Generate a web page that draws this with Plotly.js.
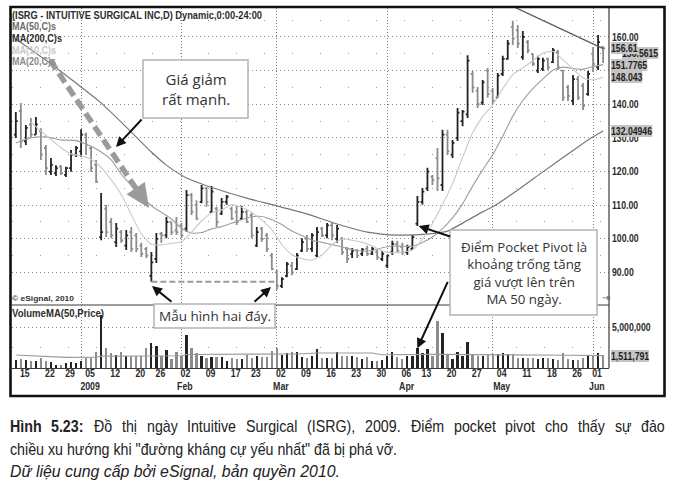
<!DOCTYPE html>
<html><head><meta charset="utf-8">
<script src="https://cdn.plot.ly/plotly-3.0.1.min.js"></script>
<style>html,body{margin:0;padding:0;background:#fff;} #chart{width:676px;height:489px;}</style>
</head><body><div id="chart"></div>
<script>
// ---------- DATA ----------
const startDate = '2008-12-12';
const holidays = ['2008-12-25','2009-01-01','2009-01-19','2009-02-16','2009-04-10','2009-05-25'];
const monthNames = ['Jan','Feb','Mar','Apr','May','Jun','Jul','Aug','Sep','Oct','Nov','Dec'];

const open = [131,138,129,134,131,132,127,120,119.5,121.5,
 119,121,125,126,131,127,122,100.5,109,105,
 99,102,98,102,101,98,97,89,94,101.5,
 101,105,102.5,104,103,113,110,111,115,108,
 109,107.5,111,109,108,106,108,107,98,103,
 101,95,90,86,89,92,91,96.5,100,97,
 95,103,101,104,100,100,97,95.5,96.5,95.5,
 97,95.6,96,94,92,96,98.5,97.5,96,97,
 104.5,111,115,118.5,124,116,131,125,130,135,
 137,149,144,140.5,150,144,142,149,153.5,163,
 162,154,158.5,155,150,150.5,153.5,152.5,155.5,150,
 145,141,147.5,145.5,143,155,151,157];
const high = [137.7,140.4,133.8,135.9,136.2,132.9,127.9,124.0,121.9,121.9,
 121.4,126.4,127.6,132.6,131.5,127.3,123.4,113.6,110.1,106.2,
 104.7,102.6,102.6,103.5,101.7,98.8,97.6,96.1,101.7,102.0,
 106.5,105.0,106.5,104.7,114.5,113.6,111.5,116.0,115.4,115.7,
 109.5,112.1,113.0,109.5,109.8,109.8,108.6,107.7,103.5,103.5,
 101.7,95.8,90.7,88.6,93.1,93.1,95.8,100.2,101.1,101.7,
 103.5,103.5,104.7,104.7,104.1,100.5,97.6,97.3,97.0,97.3,
 97.9,97.6,96.7,96.4,95.2,99.4,99.4,98.8,98.2,101.1,
 112.7,115.1,121.1,119.0,127.0,132.4,132.4,129.4,138.9,138.3,
 154.6,149.9,145.1,147.2,150.8,144.8,149.3,154.4,159.1,164.8,
 163.6,161.8,159.1,155.2,154.4,153.8,153.8,156.7,156.1,150.2,
 145.7,148.7,148.4,146.3,149.9,157.0,160.6,157.3];
const low = [130.0,127.0,127.9,130.3,130.9,123.4,119.0,119.0,118.7,119.0,
 118.4,119.9,124.3,124.3,124.9,119.9,116.6,99.6,100.5,100.2,
 97.6,98.8,96.7,96.1,96.1,94.6,94.3,87.2,92.8,98.8,
 100.2,101.1,101.1,100.2,102.0,107.1,105.6,110.6,109.5,107.7,
 103.5,107.1,110.1,105.6,104.1,105.6,104.7,100.2,97.6,99.1,
 96.1,90.7,84.8,85.4,88.6,89.2,90.7,96.1,96.1,96.1,
 94.6,100.5,100.2,99.6,98.8,95.2,92.8,94.3,94.3,94.9,
 94.9,95.2,93.7,93.4,91.3,95.2,95.8,95.2,95.2,96.7,
 103.8,110.1,114.2,116.0,114.2,114.2,124.9,124.0,129.1,133.5,
 135.9,143.4,138.9,139.8,141.9,139.8,141.9,148.4,153.2,157.6,
 156.7,153.2,155.2,151.4,149.3,149.9,150.2,152.3,150.2,141.0,
 141.0,139.8,141.3,138.3,142.5,149.6,150.2,152.3];
const close = [135,129,133,131,134,125,121,122,121,119.5,
 121,125,127,131,128,121,117,102,102,101,
 103,99.5,101,97,97,95.5,95,93,100,101,
 105,102,102,101,113,108,106,115,111,114,
 105,111,112.5,106,105,108,105,101,102,100,
 97,91,86,88,92.5,90,95,99,97,101,
 102,101,104,101,103,96,94,96.5,95,96.8,
 95.5,97,94.5,95.5,95,98.5,96.5,96,97.5,100.5,
 111,114,120,117.5,118,131,126,128.5,137.5,137.8,
 153,145,140,146.5,143,141,148.5,153.5,158,159.5,
 158,160,156,152,153.5,153,151,156,151,142,
 142.5,147.5,142,139.5,149,152,158.5,156.61];
// volume in millions of shares
const volumeM = [0.98,1.06,1.0,0.9,0.9,1.18,0.9,0.69,0.37,0.33,
 0.65,0.73,0.65,0.85,1.18,1.18,1.9,6.5,2.4,1.85,
 1.6,1.9,1.45,1.45,1.45,1.5,2.5,3.1,2.7,1.45,
 2.2,1.06,2.0,1.5,4.0,2.4,1.8,1.45,1.2,1.3,
 1.3,1.3,0.9,1.2,1.1,1.1,1.6,1.2,1.5,1.3,
 1.3,2.1,2.5,1.6,1.85,1.9,1.9,1.4,1.2,1.5,
 2.3,1.2,1.2,1.2,1.9,1.5,1.5,1.5,1.3,1.1,
 1.3,0.9,0.9,1.0,1.45,1.9,1.3,1.1,1.5,1.5,
 2.4,1.8,2.3,1.5,5.8,4.3,1.6,1.1,2.0,1.45,
 3.2,1.6,1.45,1.45,1.6,1.7,1.7,1.8,1.7,1.7,
 1.2,1.2,1.2,1.2,1.1,1.2,1.2,1.1,1.0,1.8,
 1.1,1.0,1.0,1.2,1.6,1.6,1.85,1.6];

const ma10Idx = [3,5,7,9,11,13,15,17,19,21,23,25,27,29,31,33,35,37,39,41,43,45,47,49,51,53,55,57,59,61,63,65,67,69,71,73,75,77,79,81,83,85,87,89,91,93,95,97,99,101,103,105,107,109,111,113,115,117];
const ma10Val = [134.7,132.0,129.5,127.05,125.25,124.65,123.65,121.25,117.5,113.15,107.15,101.5,98.4,98.2,98.65,99.15,102,105.3,107.7,108.6,110.15,109.35,107.85,105.55,102.75,98.3,95.25,94.05,93.65,95.15,98.25,99.9,99.55,98.93,97.88,96.38,95.83,96.03,96.65,99.9,104.65,110.2,116.4,124.13,131.43,136.33,139.83,144.58,148.8,150.8,152.95,155.2,155.7,153.25,150.45,147.8,147.25,148.043];
const ma20Idx = [0,3,6,9,12,15,17,19,21,23,25,27,29,31,33,35,37,39,41,43,45,47,49,51,53,55,57,59,61,63,65,67,69,71,73,75,77,79,81,83,85,87,89,91,93,95,97,99,101,103,105,107,109,111,113,115,117];
const ma20Val = [128.5,130,130.3,129.4,129.2,127.5,125.8,123.5,119.2,115.9,112.58,109.83,107.85,105.9,103.15,101.75,101.85,102.95,103.63,104.65,105.68,106.58,106.63,105.68,104.23,102.3,100.95,99.6,98.95,98.28,97.58,96.8,96.29,96.52,97.32,97.87,97.79,97.79,98.89,100.52,103.02,106.22,110.39,115.67,120.49,125.02,130.49,136.47,141.12,144.64,147.52,150.14,151.03,150.63,150.38,151.23,151.7765];
const ma50Idx = [0,2,7,12,17,22,27,30,34,40,46,52,58,64,70,76,82,86,90,93,95,100,105,110,114,117];
const ma50Val = [159.5,157.3,152.0,146.3,140.4,133.2,125.8,121.9,118.1,114.8,112.1,109.8,107.4,104.4,102.0,101.1,101.4,102.3,105.5,108.0,109.5,114.5,119.9,125.2,129.4,132.04946];
const ma200Idx = [98,108,117];
const ma200Val = [169.8,162.9,156.5615];
const volMAIdx = [0,6,10,16,17,33,34,56,60,71,73,84,90,100,110,117];
const volMAVal = [1.58,1.38,1.3,1.32,1.45,1.5,1.65,1.72,1.83,1.83,1.62,1.66,1.65,1.6,1.55,1.511791];

const priceTicks = [90,100,110,120,130,140,150,160];
const hiddenTicks = [150];   // covered by the value tags in the original

// ---------- FONTS / MEASUREMENT ----------
const FN = '"Liberation Sans", Arial, sans-serif';
const FB = '"Open Sans", "Noto Sans", sans-serif';
const svgNS='http://www.w3.org/2000/svg';
const msvg=document.createElementNS(svgNS,'svg');
msvg.setAttribute('width','10'); msvg.setAttribute('height','10');
msvg.style.position='absolute'; msvg.style.left='-9999px';
document.body.appendChild(msvg);
function tw(t, size, weight, italic){
  const el=document.createElementNS(svgNS,'text');
  el.setAttribute('x','0'); el.setAttribute('y','20');
  el.style.fontFamily=FN; el.style.fontSize=size+'px'; el.style.fontWeight=weight||'normal'; el.style.fontStyle=italic?'italic':'normal';
  el.textContent=t; msvg.appendChild(el);
  const w=el.getComputedTextLength(); msvg.removeChild(el); return w;
}
const clamp=(v,a,b)=>Math.max(a,Math.min(b,v));
// condensing factors so the bold labels take the same width as the narrow originals
const SZ_R = 10.5, K_R = clamp(41/tw('132.04946',SZ_R,'bold'), 0.55, 1);
const SZ_D = 10,   K_D = clamp(19.5/tw('2009',SZ_D,'bold'), 0.55, 1);

// ---------- CALENDAR (trading-day index axis) ----------
function tradingDays(start, n, hol){
  const out=[]; const d=new Date(start+'T00:00:00Z');
  while(out.length<n){
    const dow=d.getUTCDay(); const s=d.toISOString().slice(0,10);
    if(dow>0 && dow<6 && !hol.includes(s)) out.push(new Date(d.getTime()));
    d.setUTCDate(d.getUTCDate()+1);
  }
  return out;
}
const days = tradingDays(startDate, close.length, holidays);
const idx = days.map((d,i)=>i);
const tickIdx=[], tickTxt=[], monthIdx=[], monthLblX=[], monthLblT=[];
let pendingMonth=null;
for(let i=0;i<days.length;i++){
  const d=days[i];
  if(i>0 && d.getUTCMonth()!==days[i-1].getUTCMonth()){ monthIdx.push(i); pendingMonth=d; }
  const weekStart = i>0 && (d.getUTCDay()<days[i-1].getUTCDay() || (d-days[i-1])>=7*864e5);
  if(weekStart){
    tickIdx.push(i+0.8); tickTxt.push(String(d.getUTCDate()).padStart(2,'0'));
    if(pendingMonth){
      monthLblX.push(i+0.8);
      monthLblT.push(pendingMonth.getUTCMonth()===0 ? String(pendingMonth.getUTCFullYear()) : monthNames[pendingMonth.getUTCMonth()]);
      pendingMonth=null;
    }
  }
}

// ---------- GEOMETRY HELPERS ----------
const L=12, R=609, T=8, B=368;
const px = x => (x-L)/(R-L);
const py = y => (B-y)/(B-T);
const DARK='#232323', GRAY='#8c8c8c';
const up = close.map((c,i)=>c>=open[i]);

const traces = [
  {type:'scatter', mode:'lines', x:ma200Idx, y:ma200Val, line:{color:'#5c5c5c', width:1.3}, hoverinfo:'skip', xaxis:'x', yaxis:'y'},
  {type:'scatter', mode:'lines', x:ma50Idx, y:ma50Val, line:{color:'#777', width:1.2, shape:'spline', smoothing:0.6}, hoverinfo:'skip', xaxis:'x', yaxis:'y'},
  {type:'scatter', mode:'lines', x:ma20Idx, y:ma20Val, line:{color:'#9e9e9e', width:1.1, shape:'spline', smoothing:0.6}, hoverinfo:'skip', xaxis:'x', yaxis:'y'},
  {type:'scatter', mode:'lines', x:ma10Idx, y:ma10Val, line:{color:'#c9c9c9', width:1.1, shape:'spline', smoothing:0.6}, hoverinfo:'skip', xaxis:'x', yaxis:'y'},
  {type:'ohlc', x:idx, open:open, high:high, low:low, close:close, xaxis:'x', yaxis:'y',
   increasing:{line:{color:DARK, width:1.8}}, decreasing:{line:{color:GRAY, width:1.8}}, tickwidth:0.38, hoverinfo:'skip'},
  {type:'bar', x:idx, y:volumeM, width:0.45, marker:{color:up.map(u=>u?DARK:GRAY), line:{width:0}}, xaxis:'x', yaxis:'y2', hoverinfo:'skip'},
  {type:'scatter', mode:'lines', x:volMAIdx, y:volMAVal, line:{color:'#9a9a9a', width:1.1}, xaxis:'x', yaxis:'y2', hoverinfo:'skip'}
];

// dashed big arrow geometry (pixel space)
const tail=[50,60], tip=[149,208];
const dx=tip[0]-tail[0], dy=tip[1]-tail[1], len=Math.hypot(dx,dy), ux=dx/len, uy=dy/len;
const hl=24, hw=11;
const bc=[tip[0]-hl*ux, tip[1]-hl*uy];
const p1=[bc[0]-hw*uy, bc[1]+hw*ux], p2=[bc[0]+hw*uy, bc[1]-hw*ux];
const P = p => px(p[0])+','+py(p[1]);

const boxLine = {color:'#b3b3b3', width:1.5};
const shapes = [
  {type:'line', xref:'paper', yref:'paper', x0:0, x1:1, y0:py(305), y1:py(305), line:{color:'#3a3a3a', width:1.2}},
  {type:'line', xref:'paper', yref:'paper', x0:1, x1:1, y0:0, y1:1, line:{color:'#3a3a3a', width:1.2}},
  {type:'line', xref:'x', yref:'y', x0:27, x1:51.7, y0:low[27], y1:low[27], line:{color:'#9a9a9a', width:2, dash:'6px,3px'}},
  {type:'line', xref:'paper', yref:'paper', x0:px(tail[0]), y0:py(tail[1]), x1:px(bc[0]+2*ux), y1:py(bc[1]+2*uy), line:{color:'#9b9b9b', width:5.5, dash:'11px,5px'}},
  {type:'path', xref:'paper', yref:'paper', path:'M'+P(tip)+' L'+P(p1)+' L'+P(p2)+' Z', fillcolor:'#9b9b9b', line:{width:0}},
  {type:'rect', xref:'paper', yref:'paper', x0:px(143), x1:px(248), y0:py(118), y1:py(60), fillcolor:'#fff', line:boxLine},
  {type:'rect', xref:'paper', yref:'paper', x0:px(154), x1:px(275), y0:py(328), y1:py(304), fillcolor:'#fff', line:boxLine},
  {type:'rect', xref:'paper', yref:'paper', x0:px(450), x1:px(597), y0:py(315), y1:py(230), fillcolor:'#fff', line:boxLine},
  {type:'rect', xref:'paper', yref:'paper', x0:px(10.5), x1:px(664.5), y0:py(396), y1:py(7), line:{color:'#111', width:2.6}}
];

// annotations + per-annotation condensing spec (target width or factor)
const annotations = [], annSpec = [];
function add(a, spec){ annotations.push(a); annSpec.push(spec||null); }
function txt(text, x, y, size, color, targetW){
  add({text:text, xref:'paper', yref:'paper', x:px(x), y:py(y), xanchor:'left', yanchor:'middle', align:'left', showarrow:false, borderpad:0, borderwidth:0,
    font:{family:FN, size:size, color:color||'#2e2e2e', weight:'bold'}}, targetW?{w:targetW}:null);
}
function arrow(hx, hy, ax, ay){
  add({text:'', x:px(hx), y:py(hy), xref:'paper', yref:'paper', ax:ax, ay:ay, showarrow:true, arrowhead:2, arrowsize:1, arrowwidth:2, arrowcolor:'#111'});
}
function valLabel(text, xpix, yval, yref, shift){
  add({text:text, xref:'paper', yref:yref, x:px(xpix), y:yval, yshift:shift||0, xanchor:'left', yanchor:'middle', align:'left', showarrow:false,
    bgcolor:'#c4c4c4', borderpad:0, borderwidth:0, font:{family:FN, size:SZ_R, color:'#1e1e1e', weight:'bold'}}, {k:K_R, bg:true});
}

txt('(ISRG - INTUITIVE SURGICAL INC,D) Dynamic,0:00-24:00', 12, 15, 10, '#2e2e2e', 250);
txt('MA(50,C)s', 12, 26.5, 10, '#6c6c6c', 44);
txt('MA(200,C)s', 12, 38, 10, '#2e2e2e', 50);
txt('MA(10,C)s', 12, 50, 10, '#c8c8c8', 44);
txt('MA(20,C)s', 12, 61.5, 10, '#8a8a8a', 44);
txt('© eSignal, 2010', 12, 298, 8, '#333', 62);
txt('VolumeMA(50,Price)', 12, 313.5, 10, '#2e2e2e', 92);
add({text:'⇥', xref:'paper', yref:'paper', x:px(600), y:py(297), xanchor:'left', yanchor:'middle', showarrow:false, font:{family:'DejaVu Sans', size:10, color:'#666'}});
add({text:'Giá giảm<br>rất mạnh.', xref:'paper', yref:'paper', x:px(195.5), y:py(89), xanchor:'center', yanchor:'middle', showarrow:false, font:{family:FB, size:15, color:'#333'}});
add({text:'Mẫu hình hai đáy.', xref:'paper', yref:'paper', x:px(214.5), y:py(316), xanchor:'center', yanchor:'middle', showarrow:false, font:{family:FB, size:13.5, color:'#333'}});
add({text:'Điểm Pocket Pivot là<br>khoảng trống tăng<br>giá vượt lên trên<br>MA 50 ngày.', xref:'paper', yref:'paper', x:px(523.5), y:py(273), xanchor:'center', yanchor:'middle', showarrow:false, font:{family:FB, size:13.3, color:'#333'}});
arrow(116, 147, 27, -29);
arrow(152, 286, 21, 17);
arrow(271, 287, -18, 16);
add({text:'', x:80.25, y:low[80], xref:'x', yref:'y', ax:33, ay:11, showarrow:true, arrowhead:2, arrowsize:1, arrowwidth:2, arrowcolor:'#111'});
add({text:'', x:80, y:volumeM[80], xref:'x', yref:'y2', ax:31, ay:-68, showarrow:true, arrowhead:2, arrowsize:1, arrowwidth:2, arrowcolor:'#111'});
// MA(200) tag sits partly behind the close tag: right edge at ~658 px
const ma200Tag = ma200Val[ma200Val.length-1].toFixed(4);
valLabel(ma200Tag, 658 - tw(ma200Tag, SZ_R, 'bold')*K_R, ma200Val[ma200Val.length-1], 'y', -4);
valLabel(close[close.length-1].toFixed(2), 611, close[close.length-1], 'y', 0);
valLabel('151.7765', 611, ma20Val[ma20Val.length-1], 'y', 0);
valLabel('148.043', 611, ma10Val[ma10Val.length-1], 'y', 0);
valLabel('132.04946', 611, ma50Val[ma50Val.length-1], 'y', 0);
valLabel('1,511,791', 611, volMAVal[volMAVal.length-1], 'y2', 0);
monthLblX.forEach((x,i)=>add({text:monthLblT[i], xref:'x', yref:'paper', x:x, y:py(386.5), xanchor:'center', yanchor:'middle', showarrow:false, borderpad:0,
  font:{family:FN, size:SZ_D, color:'#2a2a2a', weight:'bold'}}, {k:K_D}));

// ---------- CAPTION ----------
const capLine1 = [['Hình',true],['5.23:',true],['Đồ',false],['thị',false],['ngày',false],['Intuitive',false],['Surgical',false],['(ISRG),',false],['2009.',false],['Điểm',false],['pocket',false],['pivot',false],['cho',false],['thấy',false],['sự',false],['đảo',false]];
const capLine2 = 'chiều xu hướng khi "đường kháng cự yếu nhất" đã bị phá vỡ.';
const capLine3 = 'Dữ liệu cung cấp bởi eSignal, bản quyền 2010.';
const CAPCOL = '#222', CAPSIZE = 17;
const KC  = clamp(387/tw(capLine2, CAPSIZE, 'normal', false), 0.6, 1);
const KC3 = clamp(330/tw(capLine3, CAPSIZE, 'normal', true), 0.6, 1);
const widths = capLine1.map(w=>tw(w[0], CAPSIZE, w[1]?'bold':'normal', false)*KC);
const sumW = widths.reduce((a,b)=>a+b,0);
const gap = Math.max(3, (655 - sumW)/(capLine1.length-1));
let cx = 10;
capLine1.forEach((w,i)=>{
  add({text:w[0], xref:'paper', yref:'paper', x:px(cx), y:py(426), xanchor:'left', yanchor:'middle', align:'left', showarrow:false, borderpad:0, borderwidth:0,
    font:{family:FN, size:CAPSIZE, color:CAPCOL, weight:w[1]?'bold':'normal'}}, {k:KC});
  cx += widths[i] + gap;
});
add({text:capLine2, xref:'paper', yref:'paper', x:px(10), y:py(449), xanchor:'left', yanchor:'middle', align:'left', showarrow:false, borderpad:0, borderwidth:0,
  font:{family:FN, size:CAPSIZE, color:CAPCOL}}, {k:KC});
add({text:capLine3, xref:'paper', yref:'paper', x:px(10), y:py(472), xanchor:'left', yanchor:'middle', align:'left', showarrow:false, borderpad:0, borderwidth:0,
  font:{family:FN, size:CAPSIZE, color:CAPCOL, style:'italic'}}, {k:KC3});

const axFont = {family:FN, size:SZ_R, color:'#2a2a2a', weight:'bold'};
const layout = {
  width:676, height:489, margin:{l:L, r:676-R, t:T, b:489-B}, paper_bgcolor:'#fff', plot_bgcolor:'#fff',
  showlegend:false, font:{family:FN, size:11, color:'#333'},
  xaxis:{range:[-0.76,118.17], anchor:'y2', tickmode:'array', tickvals:tickIdx, ticktext:tickTxt, tickangle:0, ticks:'',
    tickfont:{family:FN, size:SZ_D, color:'#2a2a2a', weight:'bold'}, showgrid:false, zeroline:false, showline:true, linecolor:'#3a3a3a', linewidth:1.3,
    rangeslider:{visible:false}, ticklabelstandoff:-4,
    minor:{tickmode:'array', tickvals:monthIdx, showgrid:true, gridcolor:'#7a7a7a', griddash:'1px,2px', gridwidth:1, ticks:''}},
  yaxis:{domain:[py(305),1], range:[80.32,168.62], side:'right', tickmode:'array', tickvals:priceTicks,
    ticktext:priceTicks.map(v=>hiddenTicks.includes(v)?'':v.toFixed(2)),
    ticks:'', tickfont:axFont, showgrid:true, gridcolor:'#8a8a8a', griddash:'1px,3px', gridwidth:1,
    zeroline:false, showline:false, ticklabelstandoff:2,
    minor:{tickmode:'array', tickvals:priceTicks.map(v=>v+5), showgrid:true, gridcolor:'#9a9a9a', griddash:'1px,27px', gridwidth:1, ticks:''}},
  yaxis2:{domain:[0,py(305)], range:[0,7.7], side:'right', tickmode:'array', tickvals:[5], ticktext:['5,000,000'],
    ticks:'', tickfont:axFont, showgrid:true, gridcolor:'#8a8a8a', griddash:'1px,3px', gridwidth:1,
    zeroline:false, showline:false, ticklabelstandoff:2,
    minor:{tickmode:'array', tickvals:[2.5], showgrid:true, gridcolor:'#9a9a9a', griddash:'1px,27px', gridwidth:1, ticks:''}},
  shapes:shapes, annotations:annotations, bargap:0
};

// condense rendered text horizontally (keeps it real SVG text)
function squeeze(t, k){
  const w=t.getComputedTextLength(); if(!(w>0) || !(k>0)) return 0;
  t.setAttribute('textLength', (w*k).toFixed(2)); t.setAttribute('lengthAdjust','spacingAndGlyphs'); return w;
}
function condense(){
  const root=document.getElementById('chart');
  root.querySelectorAll('.ytick text, .y2tick text').forEach(t=>squeeze(t, K_R));
  root.querySelectorAll('.xtick text').forEach(t=>squeeze(t, K_D));
  root.querySelectorAll('g.annotation').forEach(g=>{
    const i=+g.getAttribute('data-index'); const s=annSpec[i]; if(!s) return;
    const t=g.querySelector('text.annotation-text'); if(!t) return;
    const w=t.getComputedTextLength(); if(!(w>0)) return;
    const k = s.w ? clamp(s.w/w, 0.5, 1.2) : s.k;
    squeeze(t, k);
    if(s.bg){ const r=g.querySelector('rect.bg'); if(r && r.getAttribute('width')) r.setAttribute('width', Math.max(1, +r.getAttribute('width') - w*(1-k)).toFixed(2)); }
  });
}
Plotly.newPlot('chart', traces, layout, {staticPlot:true, displayModeBar:false}).then(condense);
</script>
</body></html>
